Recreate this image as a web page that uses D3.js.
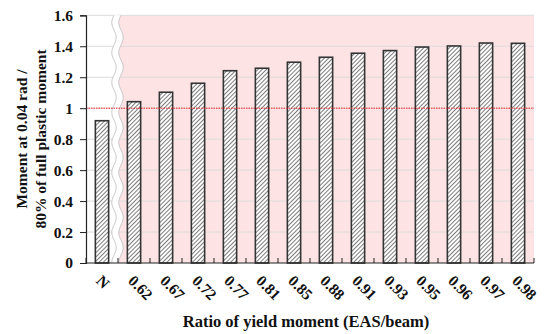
<!DOCTYPE html>
<html><head><meta charset="utf-8">
<script src="https://cdn.jsdelivr.net/npm/d3@7"></script>
<style>body{margin:0;background:#fff}svg{display:block}text{font-family:"Liberation Serif","Times New Roman",serif;font-weight:bold;fill:#111}</style>
</head><body>
<script>
const categories = ["N","0.62","0.67","0.72","0.77","0.81","0.85","0.88","0.91","0.93","0.95","0.96","0.97","0.98"];
const values = [0.919,1.042,1.103,1.161,1.242,1.258,1.297,1.329,1.355,1.372,1.395,1.402,1.421,1.419];
const yTicks = [0,0.2,0.4,0.6,0.8,1,1.2,1.4,1.6];
const yTickLabels = ["0","0.2","0.4","0.6","0.8","1","1.2","1.4","1.6"];
const refValue = 1;

const W=545,H=334;
const L=86,R=534,T=15.3,B=263;
const svg=d3.select("body").append("svg").attr("width",W).attr("height",H);

const defs=svg.append("defs");
const pat=defs.append("pattern").attr("id","hatch").attr("patternUnits","userSpaceOnUse")
  .attr("width",3).attr("height",3).attr("patternTransform","rotate(45)");
pat.append("rect").attr("width",3).attr("height",3).attr("fill","#fff");
pat.append("line").attr("x1",0).attr("y1",0).attr("x2",0).attr("y2",3).attr("stroke","#444").attr("stroke-width",1.4);

const x=d3.scaleBand().domain(categories).range([L,R]).paddingInner(0.585).paddingOuter(0.2925);
const y=d3.scaleLinear().domain([0,1.6]).range([B,T]);

// pink region (after break)
const breakX=118;
svg.append("rect").attr("x",breakX).attr("y",y(1.6)).attr("width",R-breakX).attr("height",B-y(1.6)).attr("fill","#fde3e4");

// gridlines
svg.append("g").selectAll("line").data(yTicks.filter(d=>d>0)).join("line")
  .attr("x1",L).attr("x2",R).attr("y1",d=>y(d)).attr("y2",d=>y(d))
  .attr("stroke","#dcdcdc").attr("stroke-width",1);

// wavy break band
const amp=2.2, per=30;
const ys=d3.range(y(1.6),B+0.5,1);
const leftW=ys.map(v=>[114+amp*Math.sin(v/per*2*Math.PI),v]);
const rightW=ys.map(v=>[121+amp*Math.sin(v/per*2*Math.PI),v]);
svg.append("path").attr("d","M"+leftW.map(p=>p.join(",")).join("L")+"L"+rightW.slice().reverse().map(p=>p.join(",")).join("L")+"Z")
  .attr("fill","#fff");
const line=d3.line();
svg.append("path").attr("d",line(leftW)).attr("fill","none").attr("stroke","#c4c4c4").attr("stroke-width",1);
svg.append("path").attr("d",line(rightW)).attr("fill","none").attr("stroke","#c4c4c4").attr("stroke-width",1);

// bars
svg.append("g").selectAll("rect").data(categories).join("rect")
  .attr("x",d=>x(d)).attr("width",x.bandwidth())
  .attr("y",(d,i)=>y(values[i])).attr("height",(d,i)=>B-y(values[i]))
  .attr("fill","url(#hatch)").attr("stroke","#333").attr("stroke-width",1.6);

// reference line
svg.append("line").attr("x1",L).attr("x2",R).attr("y1",y(refValue)).attr("y2",y(refValue))
  .attr("stroke","#ee2020").attr("stroke-width",1).attr("stroke-dasharray","1.5,1");

// y axis
const ya=svg.append("g").attr("transform",`translate(${L},0)`)
  .call(d3.axisLeft(y).tickValues(yTicks).tickFormat((d,i)=>yTickLabels[i]).tickSize(6).tickPadding(7));
ya.select(".domain").attr("stroke","#222").attr("stroke-width",1.2);
ya.selectAll(".tick line").attr("stroke","#222");
ya.selectAll("text").style("font-size","15.5px").attr("fill","#111");

// x axis
const xa=svg.append("g").attr("transform",`translate(0,${B})`);
xa.append("line").attr("x1",L).attr("x2",R).attr("stroke","#222").attr("stroke-width",1.2);
const step=x.step();
xa.selectAll(".xt").data(d3.range(categories.length+1)).join("line").attr("class","xt")
  .attr("x1",i=>L+i*step).attr("x2",i=>L+i*step).attr("y1",0).attr("y2",-5).attr("stroke","#222");
xa.selectAll("text").data(categories).join("text")
  .attr("transform",d=>`translate(${x(d)+x.bandwidth()/2-3},${15}) rotate(45)`)
  .attr("text-anchor","start").attr("dy","0.35em").style("font-size","15.5px").text(d=>d);

// titles
svg.append("text").attr("x",306).attr("y",327).attr("text-anchor","middle").style("font-size","16.5px")
  .text("Ratio of yield moment (EAS/beam)");
const yt=svg.append("text").attr("transform","translate(0,139) rotate(-90)").attr("text-anchor","middle").style("font-size","15.5px");
yt.append("tspan").attr("x",0).attr("y",27).text("Moment at 0.04 rad /");
yt.append("tspan").attr("x",0).attr("y",46).text("80% of full plastic moment");
</script>
</body></html>
